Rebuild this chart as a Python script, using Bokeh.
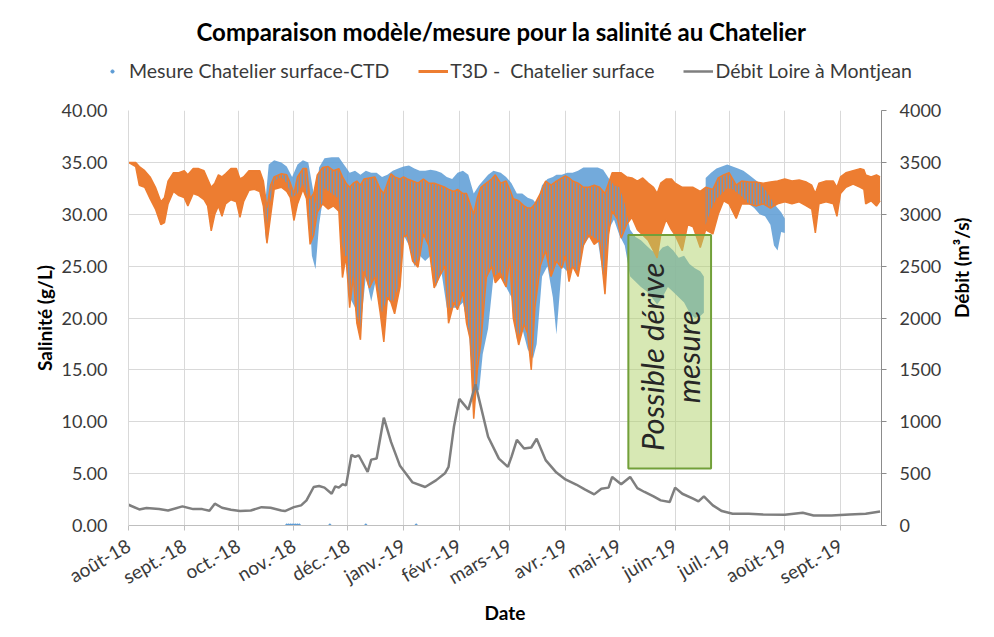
import math
import pandas as pd
from bokeh.plotting import figure
from bokeh.layouts import column
from bokeh.models import (ColumnDataSource, Range1d, LinearAxis, FixedTicker,
                          NumeralTickFormatter, BoxAnnotation, Label, Legend, LegendItem)
from bokeh.embed import file_html
from bokeh.resources import INLINE

# ---------------- data ----------------
month_ticks = ["2018-08-01", "2018-09-01", "2018-10-01", "2018-11-01", "2018-12-01",
               "2019-01-01", "2019-02-01", "2019-03-01", "2019-04-01", "2019-05-01",
               "2019-06-01", "2019-07-01", "2019-08-01", "2019-09-01"]
month_labels = ["août-18", "sept.-18", "oct.-18", "nov.-18", "déc.-18", "janv.-19",
                "févr.-19", "mars-19", "avr.-19", "mai-19", "juin-19", "juil.-19",
                "août-19", "sept.-19"]
sal_ticks = [0, 5, 10, 15, 20, 25, 30, 35, 40]
debit_ticks = [0, 500, 1000, 1500, 2000, 2500, 3000, 3500, 4000]
x_start, x_end = "2018-08-01", "2019-09-23 19:00"

debit_dates = ["2018-08-01", "2018-08-07", "2018-08-11", "2018-08-18", "2018-08-23", "2018-08-31",
               "2018-09-06", "2018-09-11", "2018-09-15", "2018-09-18", "2018-09-22", "2018-09-27",
               "2018-10-02", "2018-10-08", "2018-10-14", "2018-10-19", "2018-10-25", "2018-10-27",
               "2018-11-01", "2018-11-05", "2018-11-08", "2018-11-12", "2018-11-15", "2018-11-18",
               "2018-11-22", "2018-11-24", "2018-11-26", "2018-11-28", "2018-11-30", "2018-12-03",
               "2018-12-05", "2018-12-07", "2018-12-10", "2018-12-12", "2018-12-14", "2018-12-17",
               "2018-12-21", "2018-12-25", "2018-12-30", "2019-01-06", "2019-01-13", "2019-01-19",
               "2019-01-24", "2019-01-26", "2019-01-29", "2019-02-01", "2019-02-06", "2019-02-10",
               "2019-02-17", "2019-02-23", "2019-02-28", "2019-03-02", "2019-03-05", "2019-03-09",
               "2019-03-13", "2019-03-16", "2019-03-21", "2019-03-27", "2019-04-01", "2019-04-07",
               "2019-04-12", "2019-04-17", "2019-04-21", "2019-04-25", "2019-04-27", "2019-05-02",
               "2019-05-07", "2019-05-11", "2019-05-15", "2019-05-20", "2019-05-24", "2019-05-29",
               "2019-06-01", "2019-06-05", "2019-06-11", "2019-06-14", "2019-06-17", "2019-06-22",
               "2019-06-27", "2019-07-03", "2019-07-12", "2019-07-20", "2019-08-01", "2019-08-11",
               "2019-08-17", "2019-08-27", "2019-09-06", "2019-09-15", "2019-09-23"]
debit_values = [200, 155, 168, 158, 145, 184,
                158, 158, 142, 210, 171, 152,
                139, 145, 177, 171, 145, 139,
                177, 194, 242, 371, 381, 365,
                306, 377, 365, 397, 387, 680,
                661, 677, 581, 516, 635, 645,
                1039, 806, 575, 415, 371, 435,
                503, 565, 952, 1220, 1116, 1360,
                855, 645, 565, 661, 826, 742,
                752, 836, 630, 510, 444, 395,
                345, 300, 355, 365, 468, 397,
                468, 360, 323, 281, 242, 226,
                365, 306, 258, 232, 281, 194,
                139, 113, 113, 106, 103, 123,
                97, 97, 106, 113, 135]

t3d_dates = ["2018-08-01", "2018-08-05", "2018-08-07", "2018-08-10", "2018-08-13", "2018-08-16",
             "2018-08-19", "2018-08-21", "2018-08-23", "2018-08-26", "2018-08-29", "2018-09-01",
             "2018-09-03", "2018-09-06", "2018-09-09", "2018-09-12", "2018-09-14", "2018-09-16",
             "2018-09-18", "2018-09-20", "2018-09-22", "2018-09-24", "2018-09-27", "2018-09-30",
             "2018-10-02", "2018-10-04", "2018-10-07", "2018-10-10", "2018-10-13", "2018-10-15",
             "2018-10-17", "2018-10-19", "2018-10-21", "2018-10-25", "2018-10-28", "2018-10-30",
             "2018-11-01", "2018-11-03", "2018-11-06", "2018-11-08", "2018-11-10", "2018-11-12",
             "2018-11-14", "2018-11-17", "2018-11-20", "2018-11-23", "2018-11-26", "2018-11-28",
             "2018-11-30", "2018-12-02", "2018-12-04", "2018-12-06", "2018-12-08", "2018-12-10",
             "2018-12-13", "2018-12-16", "2018-12-19", "2018-12-21", "2018-12-23", "2018-12-25",
             "2018-12-27", "2018-12-30", "2019-01-01", "2019-01-03", "2019-01-06", "2019-01-09",
             "2019-01-12", "2019-01-15", "2019-01-18", "2019-01-21", "2019-01-24", "2019-01-26",
             "2019-01-29", "2019-01-31", "2019-02-03", "2019-02-05", "2019-02-07", "2019-02-09",
             "2019-02-11", "2019-02-13", "2019-02-16", "2019-02-19", "2019-02-21", "2019-02-24",
             "2019-02-27", "2019-03-01", "2019-03-03", "2019-03-06", "2019-03-09", "2019-03-11",
             "2019-03-13", "2019-03-15", "2019-03-18", "2019-03-21", "2019-03-24", "2019-03-27",
             "2019-03-30", "2019-04-01", "2019-04-03", "2019-04-05", "2019-04-08", "2019-04-11",
             "2019-04-14", "2019-04-17", "2019-04-20", "2019-04-23", "2019-04-25", "2019-04-27",
             "2019-04-30", "2019-05-02", "2019-05-05", "2019-05-08", "2019-05-11", "2019-05-14",
             "2019-05-17", "2019-05-20", "2019-05-22", "2019-05-24", "2019-05-27", "2019-05-30",
             "2019-06-01", "2019-06-05", "2019-06-08", "2019-06-11", "2019-06-15", "2019-06-18",
             "2019-06-22", "2019-06-25", "2019-06-28", "2019-07-01", "2019-07-05", "2019-07-08",
             "2019-07-12", "2019-07-16", "2019-07-20", "2019-07-24", "2019-07-28", "2019-08-01",
             "2019-08-05", "2019-08-09", "2019-08-13", "2019-08-16", "2019-08-18", "2019-08-20",
             "2019-08-24", "2019-08-28", "2019-08-30", "2019-09-01", "2019-09-04", "2019-09-08",
             "2019-09-12", "2019-09-14", "2019-09-15", "2019-09-18", "2019-09-21", "2019-09-23"]
t3d_high = [35.0, 35.0, 34.6, 34.2, 33.6, 32.6,
            31.2, 31.6, 33.2, 34.0, 34.0, 34.2,
            33.8, 34.4, 34.4, 34.2, 33.4, 32.6,
            33.0, 33.8, 33.6, 33.9, 34.4, 34.4,
            33.4, 33.6, 34.2, 34.2, 34.2, 33.2,
            30.6, 32.8, 33.6, 33.9, 33.8, 33.0,
            32.0, 33.6, 34.4, 34.4, 31.5, 32.0,
            33.8, 34.5, 34.6, 34.2, 34.4, 33.6,
            33.0, 32.6, 33.0, 33.2, 32.8, 33.4,
            33.5, 33.6, 32.4, 32.0, 33.0, 33.9,
            33.6, 33.4, 33.6, 33.4, 33.2, 33.0,
            33.4, 33.0, 33.0, 32.8, 32.6, 32.4,
            32.2, 32.4, 32.0, 32.0, 31.0, 30.0,
            31.6, 32.6, 33.0, 33.4, 33.8, 33.0,
            33.2, 32.4, 31.5, 31.3, 30.8, 30.6,
            30.6, 31.0, 32.0, 33.2, 32.8, 33.2,
            33.5, 33.7, 33.5, 33.2, 33.0, 32.6,
            32.6, 32.8, 32.6, 32.0, 33.0, 34.0,
            34.0, 34.0, 33.6, 33.5, 33.2, 33.5,
            33.0, 32.6, 32.0, 33.0, 33.4, 33.4,
            33.0, 32.6, 32.6, 32.6, 32.2, 32.6,
            32.4, 33.5, 33.8, 34.0, 32.8, 33.2,
            33.1, 33.1, 33.0, 33.1, 33.2, 33.4,
            33.2, 33.3, 33.1, 32.8, 32.0, 33.0,
            33.2, 33.2, 32.6, 33.6, 34.0, 34.2,
            34.4, 34.3, 33.8, 33.6, 33.8, 33.6]
t3d_low = [35.0, 34.6, 32.8, 32.6, 31.5, 30.5,
           29.0, 29.2, 31.0, 32.2, 31.8, 31.6,
           30.8, 32.0, 31.8, 31.4, 30.8, 28.4,
           30.0, 30.8, 29.8, 31.0, 31.4, 31.2,
           29.7, 31.2, 32.3, 32.4, 32.2, 30.8,
           27.2, 29.8, 32.4, 32.6, 32.2, 31.6,
           29.4, 31.0, 32.4, 31.5, 27.1, 28.0,
           30.2, 31.0, 30.5, 30.8, 30.3, 23.9,
           26.0, 21.0, 24.0, 19.5, 17.9, 24.5,
           22.9, 24.0, 20.5, 17.7, 22.0, 21.5,
           20.4, 23.0, 27.8, 28.0, 25.5, 24.9,
           28.1, 27.0, 22.9, 24.0, 25.0, 19.5,
           21.5, 20.8, 22.5, 19.5, 18.0, 10.3,
           15.0, 17.7, 23.9, 25.0, 23.4, 24.0,
           23.0, 25.8, 20.0, 17.4, 19.4, 18.5,
           15.0, 21.0, 25.0, 26.5, 24.0, 25.5,
           24.8, 26.0, 23.5, 25.0, 24.0, 27.0,
           28.0, 27.1, 27.5, 22.3, 28.0, 30.3,
           29.5, 27.7, 29.0, 29.7, 28.5, 28.0,
           27.5, 26.5, 25.8, 28.0, 29.5, 28.5,
           28.0, 26.5, 29.0, 28.8, 26.8, 28.5,
           28.1, 30.0, 31.3, 31.0, 29.6, 31.0,
           31.0, 30.8, 31.0, 30.6, 31.0, 31.2,
           31.0, 31.2, 30.8, 30.5, 28.2, 31.0,
           31.2, 31.0, 29.8, 32.0, 32.6, 32.9,
           32.6, 32.4, 31.0, 31.3, 30.8, 31.3]

ctd_dates_a = ["2018-10-16", "2018-10-18", "2018-10-21", "2018-10-25", "2018-10-28", "2018-10-31",
               "2018-11-03", "2018-11-06", "2018-11-09", "2018-11-11", "2018-11-13", "2018-11-15",
               "2018-11-18", "2018-11-22", "2018-11-26", "2018-11-28", "2018-11-30", "2018-12-02",
               "2018-12-05", "2018-12-08", "2018-12-11", "2018-12-14", "2018-12-17", "2018-12-20",
               "2018-12-23", "2018-12-26", "2018-12-29", "2019-01-01", "2019-01-04", "2019-01-07",
               "2019-01-10", "2019-01-13", "2019-01-16", "2019-01-19", "2019-01-22", "2019-01-25",
               "2019-01-28", "2019-01-31", "2019-02-03", "2019-02-06", "2019-02-09", "2019-02-12",
               "2019-02-14", "2019-02-17", "2019-02-20", "2019-02-24", "2019-02-27", "2019-03-02",
               "2019-03-05", "2019-03-08", "2019-03-11", "2019-03-14", "2019-03-16", "2019-03-19",
               "2019-03-22", "2019-03-25", "2019-03-27", "2019-03-30", "2019-04-02", "2019-04-05",
               "2019-04-08", "2019-04-11", "2019-04-15", "2019-04-19", "2019-04-22", "2019-04-25",
               "2019-04-28", "2019-05-01", "2019-05-04", "2019-05-07", "2019-05-10", "2019-05-13",
               "2019-05-16", "2019-05-19", "2019-05-22", "2019-05-25", "2019-05-28", "2019-05-31",
               "2019-06-03", "2019-06-06", "2019-06-09", "2019-06-12", "2019-06-15", "2019-06-17"]
ctd_high_a = [31.0, 34.8, 35.2, 35.0, 34.6, 33.6,
              34.8, 35.2, 35.0, 33.0, 31.0, 34.5,
              35.4, 35.5, 35.5, 35.0, 34.5, 34.0,
              34.2, 33.8, 34.2, 34.0, 34.0, 33.6,
              33.8, 34.2, 34.4, 34.6, 34.7, 34.4,
              34.2, 34.2, 34.3, 34.2, 34.0, 33.6,
              33.4, 34.0, 34.2, 33.8, 32.0, 32.8,
              33.2, 33.8, 34.2, 34.0, 33.6, 33.0,
              32.0, 32.0, 31.6, 31.4, 31.0, 32.8,
              33.4, 33.6, 33.8, 33.8, 34.0, 34.0,
              34.2, 34.5, 34.5, 34.5, 34.3, 33.5,
              32.8, 32.6, 31.0, 28.5, 27.8, 27.5,
              27.0, 26.5, 26.2, 26.8, 27.0, 26.5,
              25.8, 26.0, 25.2, 24.8, 24.5, 24.0]
ctd_low_a = [27.5, 30.5, 33.2, 33.6, 33.0, 31.6,
             32.0, 33.0, 31.5, 26.0, 24.7, 29.0,
             32.5, 32.0, 31.5, 27.0, 25.0, 22.0,
             21.0, 19.0, 24.0, 21.6, 24.0, 20.5,
             22.0, 21.5, 23.0, 28.0, 27.0, 25.0,
             26.0, 25.5, 26.0, 23.0, 24.5, 21.0,
             21.0, 21.0, 21.5, 19.0, 13.5, 13.0,
             16.5, 19.0, 24.0, 24.5, 23.0, 22.0,
             18.0, 19.0, 17.0, 16.1, 17.5, 24.0,
             25.0, 22.0, 18.4, 25.0, 24.5, 25.0,
             24.5, 27.0, 28.0, 27.5, 24.0, 28.5,
             29.5, 28.0, 27.0, 24.0, 23.5, 23.0,
             22.6, 22.0, 21.3, 22.0, 23.0, 22.5,
             22.0, 21.5, 20.5, 20.0, 20.2, 20.5]

ctd_dates_b = ["2019-06-18", "2019-06-21", "2019-06-24", "2019-06-27", "2019-06-30", "2019-07-03",
               "2019-07-06", "2019-07-09", "2019-07-12", "2019-07-15", "2019-07-18", "2019-07-21",
               "2019-07-24", "2019-07-26", "2019-07-28", "2019-07-30", "2019-08-01"]
ctd_high_b = [33.5, 34.0, 34.4, 34.6, 34.8, 34.6,
              34.4, 34.2, 33.8, 33.4, 33.0, 32.4,
              31.6, 31.0, 30.6, 30.2, 29.6]
ctd_low_b = [29.0, 30.5, 31.5, 32.0, 32.5, 32.4,
             32.0, 31.6, 31.0, 30.6, 30.0, 29.8,
             29.0, 27.0, 26.5, 28.3, 28.2]

ctd_zero_dates = ["2018-10-28", "2018-10-29", "2018-10-30", "2018-10-31", "2018-11-01",
                  "2018-11-02", "2018-11-03", "2018-11-04", "2018-11-21", "2018-12-11",
                  "2019-01-08"]
ctd_zero_values = [0.05, 0.05, 0.05, 0.05, 0.05, 0.05, 0.05, 0.05, 0.05, 0.05, 0.05]

drift_start, drift_end = "2019-05-06", "2019-06-21"
drift_bottom, drift_top = 5.5, 28.0

title_text = "Comparaison modèle/mesure pour la salinité au Chatelier"
legend_labels = ["Mesure Chatelier surface-CTD", "T3D -  Chatelier surface", "Débit Loire à Montjean"]

# ---------------- styling ----------------
FONT = "Lato"
BLUE = "#5B9BD5"
ORANGE = "#ED7D31"
GRAY = "#7F7F7F"
GRID = "#D9D9D9"
TXT = "#3A3A3A"
FRAME_W, FRAME_H = 753, 415
B_LEFT, B_RIGHT, B_TOP, B_BOTTOM = 128, 100, 10, 104
W = B_LEFT + FRAME_W + B_RIGHT
HEAD_H = 100


def ts(lst):
    return pd.to_datetime(pd.Series(lst))


def ms(d):
    return float(pd.Timestamp(d).value // 10**6)


src_debit = ColumnDataSource(dict(date=ts(debit_dates), q=debit_values))
src_t3d = ColumnDataSource(dict(date=ts(t3d_dates), hi=t3d_high, lo=t3d_low))
src_ctd_a = ColumnDataSource(dict(date=ts(ctd_dates_a), hi=ctd_high_a, lo=ctd_low_a))
src_ctd_b = ColumnDataSource(dict(date=ts(ctd_dates_b), hi=ctd_high_b, lo=ctd_low_b))
src_zero = ColumnDataSource(dict(date=ts(ctd_zero_dates), s=ctd_zero_values))

xr = Range1d(pd.Timestamp(x_start), pd.Timestamp(x_end))

# ================= main chart =================
p = figure(x_axis_type="datetime", frame_width=FRAME_W, frame_height=FRAME_H,
           x_range=xr, y_range=Range1d(sal_ticks[0], sal_ticks[-1]),
           min_border_left=B_LEFT, min_border_right=B_RIGHT,
           min_border_top=B_TOP, min_border_bottom=B_BOTTOM,
           output_backend="svg", toolbar_location=None)
p.outline_line_color = None
p.background_fill_color = "white"
p.border_fill_color = "white"
p.extra_y_ranges = {"q": Range1d(debit_ticks[0], debit_ticks[-1])}

xt = FixedTicker(ticks=[ms(d) for d in month_ticks])
yt = FixedTicker(ticks=sal_ticks)
p.xaxis.ticker = xt
p.xgrid.ticker = xt
p.yaxis.ticker = yt
p.ygrid.ticker = yt
for g in (p.xgrid, p.ygrid):
    g.grid_line_color = GRID
    g.grid_line_width = 1

xa = p.xaxis[0]
xa.major_label_overrides = {ms(d): lab for d, lab in zip(month_ticks, month_labels)}
xa.major_label_orientation = math.pi / 6
xa.axis_line_color = "#BFBFBF"
xa.major_tick_line_color = "#BFBFBF"
xa.major_tick_out = 5
xa.major_tick_in = 0
xa.minor_tick_line_color = None
xa.major_label_text_font = FONT
xa.major_label_text_font_size = "19px"
xa.major_label_text_color = TXT
xa.major_label_standoff = 13
xa.axis_label = "Date"
xa.axis_label_text_font = FONT
xa.axis_label_text_font_style = "bold"
xa.axis_label_text_font_size = "19px"
xa.axis_label_text_color = "#000000"
xa.axis_label_standoff = 0

ya = p.yaxis[0]
ya.formatter = NumeralTickFormatter(format="0.00")
ya.axis_line_color = GRID
ya.major_tick_line_color = None
ya.minor_tick_line_color = None
ya.major_label_text_font = FONT
ya.major_label_text_font_size = "18px"
ya.major_label_text_color = TXT
ya.major_label_standoff = 15
ya.axis_label = "Salinité (g/L)"
ya.axis_label_text_font = FONT
ya.axis_label_text_font_style = "bold"
ya.axis_label_text_font_size = "19px"
ya.axis_label_text_color = "#000000"
ya.axis_label_standoff = 2

ra = LinearAxis(y_range_name="q", ticker=FixedTicker(ticks=debit_ticks),
                formatter=NumeralTickFormatter(format="0"))
ra.axis_line_color = "#8C8C8C"
ra.major_tick_line_color = "#8C8C8C"
ra.major_tick_out = 5
ra.major_tick_in = 0
ra.minor_tick_line_color = None
ra.major_label_text_font = FONT
ra.major_label_text_font_size = "18px"
ra.major_label_text_color = TXT
ra.major_label_standoff = 13
ra.axis_label = "Débit (m³/s)"
ra.axis_label_text_font = FONT
ra.axis_label_text_font_style = "bold"
ra.axis_label_text_font_size = "19px"
ra.axis_label_text_color = "#000000"
ra.axis_label_standoff = 17
ra.axis_label_orientation = math.pi / 2
p.add_layout(ra, "right")

# series: solid model band, measurement band, then striped model on top (tidal texture)
p.varea(x="date", y1="lo", y2="hi", source=src_t3d, fill_color=ORANGE, fill_alpha=1.0)
for s in (src_ctd_a, src_ctd_b):
    p.varea(x="date", y1="lo", y2="hi", source=s, fill_color=BLUE, fill_alpha=0.85)
p.scatter(x="date", y="s", source=src_zero, size=2, color=BLUE)
p.varea(x="date", y1="lo", y2="hi", source=src_t3d, fill_alpha=0,
        hatch_pattern="vertical_line", hatch_color=ORANGE, hatch_scale=3, hatch_weight=2.0)
p.line(x="date", y="hi", source=src_t3d, line_color=ORANGE, line_width=1.5)
p.line(x="date", y="lo", source=src_t3d, line_color=ORANGE, line_width=1.5)
p.line(x="date", y="q", source=src_debit, y_range_name="q", line_color=GRAY, line_width=2.5)

box = BoxAnnotation(left=pd.Timestamp(drift_start), right=pd.Timestamp(drift_end),
                    bottom=drift_bottom, top=drift_top,
                    fill_color="#AFD169", fill_alpha=0.5,
                    line_color="#72A03A", line_width=2, line_alpha=1.0)
p.add_layout(box)
mid = pd.Timestamp(drift_start) + (pd.Timestamp(drift_end) - pd.Timestamp(drift_start)) / 2
p.add_layout(Label(x=mid, y=(drift_bottom + drift_top) / 2 - 0.5, angle=math.pi / 2,
                   text="Possible dérive\nmesure", text_align="center", text_baseline="middle",
                   text_font=FONT, text_font_style="italic", text_font_size="31px",
                   text_color="#262626", text_line_height=0.95))

# ================= header: title + legend =================
h = figure(width=W, height=HEAD_H, x_range=xr, y_range=Range1d(-20, -10),
           x_axis_location=None, y_axis_location=None,
           min_border_left=0, min_border_right=0, min_border_top=0, min_border_bottom=0,
           output_backend="svg", toolbar_location=None)
h.grid.visible = False
h.outline_line_color = None
h.background_fill_color = "white"
h.border_fill_color = "white"
try:
    h.frame_align = False
    p.frame_align = False
    HEAD_X0 = 0
except AttributeError:
    HEAD_X0 = B_LEFT
# legend proxies use the real sources; the header's y-range shows none of their points
lg_ctd = h.scatter(x="date", y="s", source=src_zero, size=3, color=BLUE)
lg_t3d = h.line(x="date", y="hi", source=src_t3d, line_color=ORANGE, line_width=3)
lg_deb = h.line(x="date", y="q", source=src_debit, line_color=GRAY, line_width=2.5)
h.add_layout(Legend(items=[LegendItem(label=legend_labels[0], renderers=[lg_ctd]),
                           LegendItem(label=legend_labels[1], renderers=[lg_t3d]),
                           LegendItem(label=legend_labels[2], renderers=[lg_deb])],
                    orientation="horizontal", location=(97 - HEAD_X0, HEAD_H - 82),
                    border_line_color=None, background_fill_alpha=0,
                    label_text_font=FONT, label_text_font_size="19.5px", label_text_color=TXT,
                    glyph_width=30, glyph_height=8, label_height=20, label_standoff=2,
                    spacing=29, margin=0, padding=0))
h.add_layout(Label(x=501 - HEAD_X0, y=HEAD_H - 31, x_units="screen", y_units="screen",
                   text=title_text, text_align="center", text_baseline="middle",
                   text_font=FONT, text_font_size="24px", text_font_style="bold",
                   text_color="#000000"))

layout = column(h, p, spacing=0)
open("out.html", "w").write(file_html(layout, INLINE))
